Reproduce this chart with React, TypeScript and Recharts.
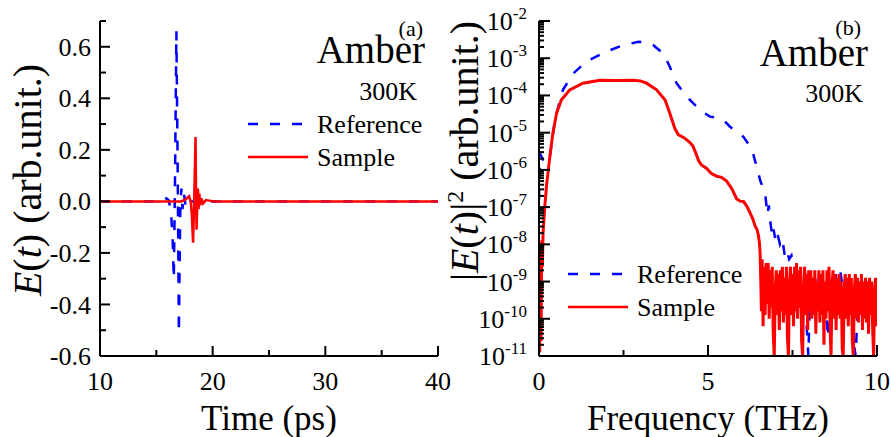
import React from "react"
import { LineChart, Line, XAxis, YAxis, Legend } from "recharts"

const FONT = "'Liberation Serif', 'Times New Roman', serif"
const BLUE = "#0000ff"
const RED = "#ff0000"
const DASH = "10 12"

// (a) time domain, E(t)
const refTime = [10, 15.6, 15.9, 16.1, 16.3, 16.45, 16.55, 16.65, 16.78, 16.9, 17.0, 17.12, 17.22, 17.32, 17.45, 17.6, 17.8, 18.1, 40]
const refField = [0, 0, 0.012, 0.005, -0.04, -0.15, -0.3, 0.05, 0.66, 0.1, -0.51, -0.05, 0.05, -0.03, 0.03, -0.02, 0.01, 0, 0]
const samTime = [10, 17.2, 17.6, 17.9, 18.05, 18.15, 18.26, 18.36, 18.48, 18.52, 18.57, 18.63, 18.69, 18.75, 18.82, 18.9, 19.0, 19.15, 19.4, 19.7, 20.2, 40]
const samField = [0, 0, 0.008, 0.02, 0, -0.05, -0.16, 0, 0.25, 0.05, -0.11, -0.02, 0.05, -0.03, 0.03, -0.015, 0.012, -0.008, 0.005, 0.003, 0, 0]

// (b) spectra, stored as log10 |E|^2
const refFreq = [
  0, 0.03, 0.17, 0.32, 0.47, 0.6, 0.71, 1.01, 1.4, 2.0, 2.49, 2.94, 3.2, 3.38, 3.68, 3.87, 4.07, 4.37, 4.76, 5.06,
  5.3, 5.5, 5.65, 6.05, 6.3, 6.45, 6.55, 6.69, 6.76, 6.8, 6.84, 6.9, 6.94, 7.0, 7.05, 7.13, 7.2, 7.27, 7.33, 7.4,
  7.47, 7.53, 7.6, 7.65, 7.7, 7.78, 7.85, 7.92, 7.97, 8.02, 8.1, 8.17, 8.25, 8.32, 8.4, 8.47, 8.55, 8.62, 8.7, 8.78,
  8.85, 8.92, 9.0, 9.07, 9.15, 9.22, 9.3, 9.37, 9.44, 9.52, 9.6, 9.68, 9.75, 9.82, 9.9, 9.95, 10,
]
const refPowerExp = [
  -6.8, -5.56, -5.83, -5.65, -4.66, -4.2, -3.85, -3.41, -3.09, -2.82, -2.65, -2.56, -2.58, -2.65, -2.87, -3.23, -3.67, -4.03, -4.39, -4.57,
  -4.6, -4.7, -4.84, -5.11, -5.45, -5.95, -6.3, -6.63, -7.2, -6.95, -7.35, -7.8, -7.6, -7.9, -7.7, -8.0, -7.85, -8.3, -8.15, -8.4,
  -8.3, -8.6, -8.8, -9.3, -8.9, -9.6, -9.0, -10.2, -11.0, -9.2, -9.5, -8.9, -9.7, -9.1, -9.8, -9.2, -10.5, -8.95, -9.4, -8.8,
  -9.6, -8.75, -9.3, -8.85, -9.9, -9.0, -10.6, -11.0, -9.4, -9.0, -9.7, -9.2, -10.0, -9.0, -9.5, -9.15, -9.4,
]
const samFreq = [
  0, 0.02, 0.04, 0.06, 0.08, 0.1, 0.12, 0.17, 0.22, 0.32, 0.41, 0.52, 0.66, 0.91, 1.3, 1.8, 2.29, 2.79, 3.0, 3.18,
  3.48, 3.73, 3.87, 4.02, 4.12, 4.3, 4.45, 4.55, 4.64, 4.72, 4.8, 4.96, 5.1, 5.26, 5.4, 5.55, 5.7, 5.85, 5.95, 6.05,
  6.15, 6.24, 6.32, 6.39, 6.45, 6.49, 6.52, 6.54,
  6.56, 6.58, 6.6, 6.63, 6.66, 6.69, 6.72, 6.75, 6.78, 6.81, 6.84, 6.87, 6.9, 6.93, 6.96, 6.99, 7.02, 7.05, 7.08, 7.11,
  7.14, 7.17, 7.2, 7.23, 7.26, 7.29, 7.32, 7.35, 7.38, 7.41, 7.44, 7.47, 7.5, 7.53, 7.56, 7.59, 7.62, 7.65, 7.68, 7.71,
  7.74, 7.77, 7.8, 7.83, 7.86, 7.89, 7.92, 7.95, 7.98, 8.01, 8.04, 8.07, 8.1, 8.13, 8.16, 8.19, 8.22, 8.25, 8.28, 8.31,
  8.34, 8.37, 8.4, 8.43, 8.46, 8.49, 8.52, 8.55, 8.58, 8.61, 8.64, 8.67, 8.7, 8.73, 8.76, 8.79, 8.82, 8.85, 8.88, 8.91,
  8.94, 8.97, 9.0, 9.03, 9.06, 9.09, 9.12, 9.15, 9.18, 9.21, 9.24, 9.27, 9.3, 9.33, 9.36, 9.39, 9.42, 9.45, 9.48, 9.51,
  9.54, 9.57, 9.6, 9.63, 9.66, 9.69, 9.72, 9.75, 9.78, 9.81, 9.84, 9.87, 9.9, 9.93, 9.96, 9.99, 10,
]
const samPowerExp = [
  -9.0, -10.9, -8.2, -10.6, -7.9, -8.6, -7.7, -7.0, -6.45, -5.65, -5.02, -4.48, -4.12, -3.85, -3.67, -3.59, -3.6, -3.59, -3.61, -3.67,
  -3.85, -4.12, -4.48, -4.89, -5.05, -5.14, -5.25, -5.35, -5.55, -5.75, -5.86, -5.96, -6.1, -6.17, -6.2, -6.3, -6.5, -6.78, -6.84, -6.85,
  -6.98, -7.15, -7.3, -7.5, -7.6, -7.75, -7.95, -8.2,
  -8.9, -9.8, -8.4, -10.2, -8.6, -9.9, -8.5, -9.6, -8.5, -10.0, -8.7, -9.7, -8.6, -10.4, -11.0, -9.2, -8.7, -9.9, -8.8, -10.3,
  -8.7, -9.8, -8.6, -10.1, -8.9, -9.9, -8.6, -10.5, -11.0, -9.1, -8.6, -9.9, -8.8, -10.2, -8.6, -9.8, -8.5, -10.0, -8.7, -9.7,
  -8.6, -10.6, -11.0, -9.2, -8.6, -9.9, -8.8, -10.3, -8.7, -9.8, -8.7, -10.0, -8.9, -9.9, -8.7, -10.4, -9.0, -9.8, -8.7, -10.1,
  -8.8, -9.9, -8.7, -10.7, -9.0, -10.0, -8.7, -9.8, -8.6, -10.2, -11.0, -9.1, -8.7, -10.0, -8.8, -10.3, -8.9, -9.9, -8.8, -10.0,
  -9.0, -10.8, -11.0, -9.2, -8.8, -10.0, -8.9, -10.2, -8.8, -9.9, -8.9, -10.6, -11.0, -9.2, -8.8, -10.0, -8.9, -10.1, -9.0, -9.9,
  -8.8, -10.3, -9.0, -10.0, -8.9, -10.1, -9.0, -10.4, -8.9, -9.9, -9.0, -10.2, -11.0, -9.2, -8.9, -10.2, -9.4,
]

// axis ticks
const timeTicks = [10, 15, 20, 25, 30, 35, 40]
const timeLabels = [10, 20, 30, 40]
const fieldTicks = [-0.6, -0.5, -0.4, -0.3, -0.2, -0.1, 0, 0.1, 0.2, 0.3, 0.4, 0.5, 0.6, 0.7]
const fieldLabels = [-0.6, -0.4, -0.2, 0, 0.2, 0.4, 0.6]
const freqTicks = [0, 2.5, 5, 7.5, 10]
const freqLabels = [0, 5, 10]
const decades = [-11, -10, -9, -8, -7, -6, -5, -4, -3, -2]
const powerTicks = decades.flatMap((d) => (d === -2 ? [1e-2] : [1, 2, 3, 4, 5, 6, 7, 8, 9].map((m) => m * 10 ** d)))

const refTimeData = refTime.map((t, i) => ({ t, v: refField[i] }))
const samTimeData = samTime.map((t, i) => ({ t, v: samField[i] }))
const refSpecData = refFreq.map((f, i) => ({ f, p: 10 ** refPowerExp[i] }))
const samSpecData = samFreq.map((f, i) => ({ f, p: 10 ** samPowerExp[i] }))

const near = (list: number[], v: number) => list.some((m) => Math.abs(m - v) < 1e-9)
const isDecade = (v: number) => Math.abs(Math.log10(v) - Math.round(Math.log10(v))) < 1e-6

type Side = "left" | "right" | "top" | "bottom"

function tickRenderer(side: Side, gap: number, isMajor: (v: number) => boolean, label?: (v: number, x: number, y: number) => React.ReactNode, minorLen = 6, majorLen = 10) {
  return (p: any) => {
    const x = Number(p.x)
    const y = Number(p.y)
    const v = p.payload.value as number
    const major = isMajor(v)
    const len = major ? majorLen : minorLen
    let x1 = x, x2 = x, y1 = y, y2 = y
    if (side === "left") { x1 = x + gap; x2 = x1 + len }
    if (side === "right") { x1 = x - gap; x2 = x1 - len }
    if (side === "bottom") { y1 = y - gap; y2 = y1 - len }
    if (side === "top") { y1 = y + gap; y2 = y1 + len }
    return (
      <g>
        <line x1={x1} y1={y1} x2={x2} y2={y2} stroke="#000" strokeWidth={2} />
        {label && major ? label(v, x, y) : null}
      </g>
    )
  }
}

const serif = { fontFamily: FONT }

const fieldLabel = (v: number, x: number, y: number) => (
  <text x={x} y={y} dy="0.35em" textAnchor="end" fontSize={26} fill="#000" style={serif}>{v.toFixed(1)}</text>
)
const bottomLabel = (v: number, x: number, y: number) => (
  <text x={x} y={y} dy="0.71em" textAnchor="middle" fontSize={26} fill="#000" style={serif}>{v}</text>
)
const powerLabel = (v: number, x: number, y: number) => (
  <text x={x} y={y} textAnchor="end" fontSize={26} fill="#000" style={serif}>
    <tspan dy={9}>10</tspan>
    <tspan dy={-11} fontSize={17}>{Math.round(Math.log10(v))}</tspan>
  </text>
)

const series = [
  { name: "Reference", color: BLUE, dash: DASH, len: 54 },
  { name: "Sample", color: RED, dash: undefined, len: 60 },
]

function LegendBox() {
  return (
    <svg width={200} height={70} style={{ overflow: "visible" }}>
      {series.map((s, i) => (
        <g key={s.name}>
          <line x1={8} x2={8 + s.len} y1={16 + 33 * i} y2={16 + 33 * i} stroke={s.color} strokeWidth={2.5} strokeDasharray={s.dash} />
          <text x={77} y={25 + 33 * i} fontSize={26} fill="#000" style={serif}>{s.name}</text>
        </g>
      ))}
    </svg>
  )
}

function Note({ x, y, size, anchor = "end", children }: { x: number; y: number; size: number; anchor?: "start" | "middle" | "end"; children: React.ReactNode }) {
  return <text x={x} y={y} textAnchor={anchor} fontSize={size} fill="#000" style={serif}>{children}</text>
}

const axisLine = { stroke: "#000", strokeWidth: 2 }

export default function App() {
  return (
    <div style={{ position: "absolute", left: 0, top: 0, width: 891, height: 437, background: "#fff", fontFamily: FONT }}>
      <div style={{ position: "absolute", left: 0, top: 0 }}>
        <LineChart width={470} height={437} margin={{ top: 21, right: 32, bottom: 0, left: 0 }}>
          <XAxis xAxisId="b" dataKey="t" type="number" domain={[10, 40]} allowDataOverflow ticks={timeTicks} interval={0}
            height={81} tickSize={0} tickMargin={16} axisLine={axisLine} tickLine={false}
            tick={tickRenderer("bottom", 16, (v) => near(timeLabels, v), bottomLabel)} />
          <XAxis xAxisId="t" orientation="top" type="number" domain={[10, 40]} allowDataOverflow ticks={timeTicks} interval={0}
            height={0} tickSize={0} tickMargin={0} axisLine={axisLine} tickLine={false}
            tick={tickRenderer("top", 0, (v) => near(timeLabels, v))} />
          <YAxis yAxisId="l" type="number" domain={[-0.6, 0.7]} allowDataOverflow ticks={fieldTicks} interval={0}
            width={100} tickSize={0} tickMargin={9} axisLine={axisLine} tickLine={false}
            tick={tickRenderer("left", 9, (v) => near(fieldLabels, v), fieldLabel)} />
          <YAxis yAxisId="r" orientation="right" type="number" domain={[-0.6, 0.7]} allowDataOverflow ticks={fieldTicks} interval={0}
            width={0} tickSize={0} tickMargin={0} axisLine={axisLine} tickLine={false}
            tick={tickRenderer("right", 0, (v) => near(fieldLabels, v))} />
          <Line xAxisId="b" yAxisId="l" data={refTimeData} dataKey="v" type="linear" stroke={BLUE} strokeWidth={2.5}
            strokeDasharray={DASH} dot={false} isAnimationActive={false} />
          <Line xAxisId="b" yAxisId="l" data={samTimeData} dataKey="v" type="linear" stroke={RED} strokeWidth={2.5}
            dot={false} isAnimationActive={false} />
          <Legend content={() => <LegendBox />} layout="horizontal" verticalAlign="middle" align="center"
            wrapperStyle={{ position: "absolute", left: 240, top: 108, width: 200, height: 70 }} />
        </LineChart>
      </div>
      <div style={{ position: "absolute", left: 445, top: 0 }}>
        <LineChart width={446} height={437} margin={{ top: 21, right: 14, bottom: 0, left: 0 }}>
          <XAxis xAxisId="b" dataKey="f" type="number" domain={[0, 10]} allowDataOverflow ticks={freqTicks} interval={0}
            height={81} tickSize={0} tickMargin={16} axisLine={axisLine} tickLine={false}
            tick={tickRenderer("bottom", 16, (v) => near(freqLabels, v), bottomLabel, 6, 11)} />
          <XAxis xAxisId="t" orientation="top" type="number" domain={[0, 10]} allowDataOverflow ticks={freqTicks} interval={0}
            height={0} tickSize={0} tickMargin={0} axisLine={axisLine} tickLine={false}
            tick={tickRenderer("top", 0, (v) => near(freqLabels, v), undefined, 6, 11)} />
          <YAxis yAxisId="l" type="number" scale="log" domain={[1e-11, 1e-2]} allowDataOverflow ticks={powerTicks} interval={0}
            width={94} tickSize={0} tickMargin={12} axisLine={axisLine} tickLine={false}
            tick={tickRenderer("left", 12, isDecade, powerLabel, 5, 11)} />
          <YAxis yAxisId="r" orientation="right" type="number" scale="log" domain={[1e-11, 1e-2]} allowDataOverflow ticks={powerTicks} interval={0}
            width={0} tickSize={0} tickMargin={0} axisLine={axisLine} tickLine={false}
            tick={tickRenderer("right", 0, isDecade, undefined, 5, 11)} />
          <Line xAxisId="b" yAxisId="l" data={refSpecData} dataKey="p" type="linear" stroke={BLUE} strokeWidth={2.5}
            strokeDasharray={DASH} dot={false} isAnimationActive={false} />
          <Line xAxisId="b" yAxisId="l" data={samSpecData} dataKey="p" type="linear" stroke={RED} strokeWidth={3}
            dot={false} isAnimationActive={false} />
          <Legend content={() => <LegendBox />} layout="horizontal" verticalAlign="middle" align="center"
            wrapperStyle={{ position: "absolute", left: 115, top: 258, width: 200, height: 70 }} />
        </LineChart>
      </div>
      <svg width={891} height={437} style={{ position: "absolute", left: 0, top: 0, pointerEvents: "none" }}>
        <Note x={423} y={36} size={22}>(a)</Note>
        <Note x={425} y={63} size={39}>Amber</Note>
        <Note x={417} y={100} size={26}>300K</Note>
        <Note x={861} y={35} size={22}>(b)</Note>
        <Note x={868} y={66} size={39}>Amber</Note>
        <Note x={863} y={102} size={26}>300K</Note>
        <Note x={269} y={430} size={35} anchor="middle">Time (ps)</Note>
        <Note x={708} y={430} size={35} anchor="middle">Frequency (THz)</Note>
        <text transform="translate(41,180) rotate(-90)" textAnchor="middle" fontSize={40} fill="#000" style={serif}>
          <tspan fontStyle="italic">E</tspan>(<tspan fontStyle="italic">t</tspan>){" (arb.unit.)"}
        </text>
        <text transform="translate(478,151) rotate(-90)" textAnchor="middle" fontSize={40} fill="#000" style={serif}>
          |<tspan fontStyle="italic">E</tspan>(<tspan fontStyle="italic">t</tspan>)|<tspan dy={-15} fontSize={24}>2</tspan>
          <tspan dy={15}>{" (arb.unit.)"}</tspan>
        </text>
      </svg>
    </div>
  )
}
